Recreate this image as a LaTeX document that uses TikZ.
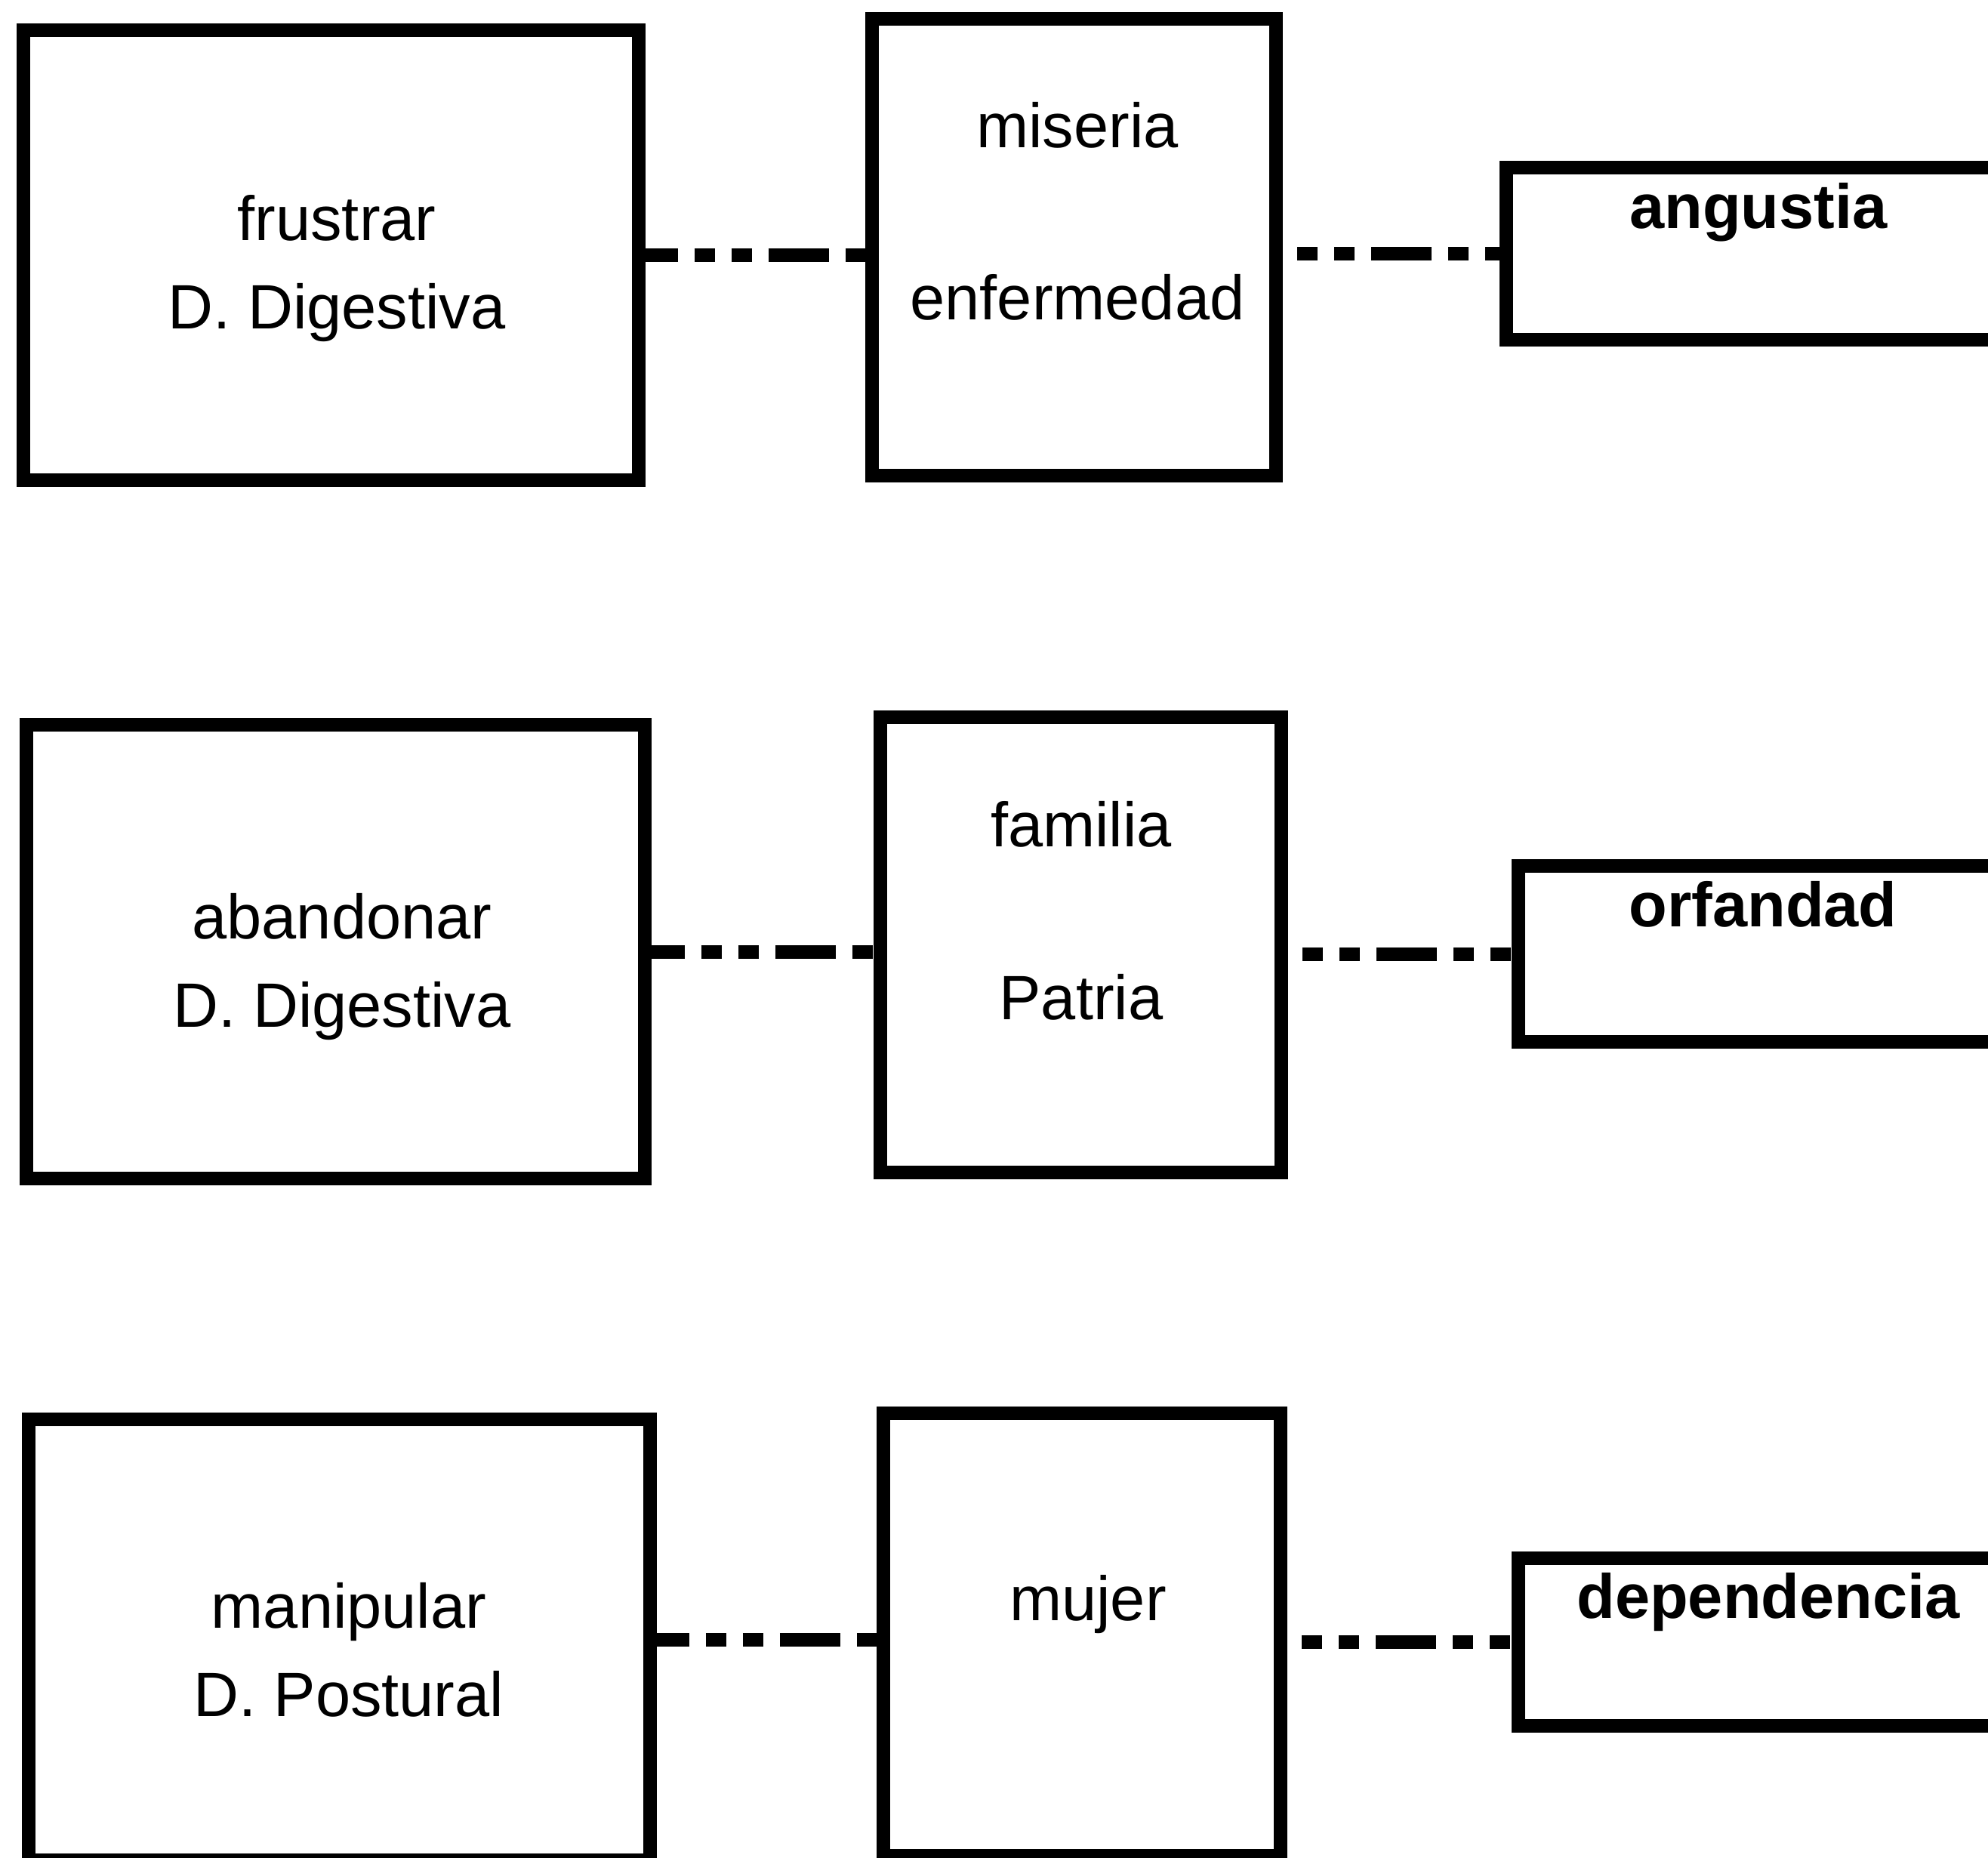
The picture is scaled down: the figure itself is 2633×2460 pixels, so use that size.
\documentclass[tikz,border=0pt]{standalone}
\usepackage{fontspec}
\setmainfont{Liberation Sans}
\begin{document}
\begin{tikzpicture}[x=0.1pt,y=-0.1pt,
  box/.style={draw, line width=1.8pt, rectangle, outer sep=0pt, inner sep=0pt},
  conn/.style={line width=1.8pt,
    dash pattern=on 8pt off 2.2pt on 2.7pt off 2.2pt on 2.7pt off 2.2pt},
  lbl/.style={inner sep=0pt, anchor=base, font=\fontsize{8.3}{10}\selectfont},
  key/.style={inner sep=0pt, anchor=base, font=\fontsize{8.3}{10}\selectfont\bfseries}]
\useasboundingbox (0,0) rectangle (2633,2460);
\clip (0,0) rectangle (2633,2460);

% first row
\node[box, minimum width=81.5pt, minimum height=59.6pt] (A1) at (438.5,338) {};
\node[box, minimum width=53.5pt, minimum height=60.5pt] (B1) at (1422.5,327.5) {};
\node[box, minimum width=75.5pt, minimum height=22.8pt] (C1) at (2372.5,336) {};
\node[lbl] (a1t) at (446,318) {frustrar};
\node[lbl] (a1b) at (446,435) {D. Digestiva};
\node[lbl] (b1t) at (1427,195) {miseria};
\node[lbl] (b1b) at (1427,423) {enfermedad};
\node[key] (c1t) at (2329,302) {angustia};
\draw[conn, dash phase=2.8pt] (A1.east) -- (A1.east -| B1.west);
\draw[conn, dash phase=7.4pt] (C1.west -| B1.east) -- (C1.west);

% second row
\node[box, minimum width=81.9pt, minimum height=60.1pt] (A2) at (444.5,1260.5) {};
\node[box, minimum width=53.1pt, minimum height=60.3pt] (B2) at (1431.5,1251.5) {};
\node[box, minimum width=73.9pt, minimum height=23.3pt] (C2) at (2380.5,1263.5) {};
\node[lbl] (a2t) at (453,1243) {abandonar};
\node[lbl] (a2b) at (453,1360) {D. Digestiva};
\node[lbl] (b2t) at (1432,1121) {familia};
\node[lbl] (b2b) at (1432,1350) {Patria};
\node[key] (c2t) at (2335,1227) {orfandad};
\draw[conn, dash phase=2.7pt] (A2.east) -- (A2.east -| B2.west);
\draw[conn, dash phase=7.4pt] (C2.west -| B2.east) -- (C2.west);

% third row
\node[box, minimum width=82.3pt, minimum height=58.4pt] (A3) at (449.5,2172) {};
\node[box, minimum width=52.6pt, minimum height=58.6pt] (B3) at (1433,2165) {};
\node[box, minimum width=73.9pt, minimum height=22.2pt] (C3) at (2380.5,2175) {};
\node[lbl] (a3t) at (462,2156) {manipular};
\node[lbl] (a3b) at (462,2273) {D. Postural};
\node[lbl] (b3t) at (1441,2146) {mujer};
\node[key] (c3t) at (2342,2143) {dependencia};
\draw[conn, dash phase=2.8pt] (A3.east) -- (A3.east -| B3.west);
\draw[conn, dash phase=7.4pt] (C3.west -| B3.east) -- (C3.west);
\end{tikzpicture}
\end{document}
